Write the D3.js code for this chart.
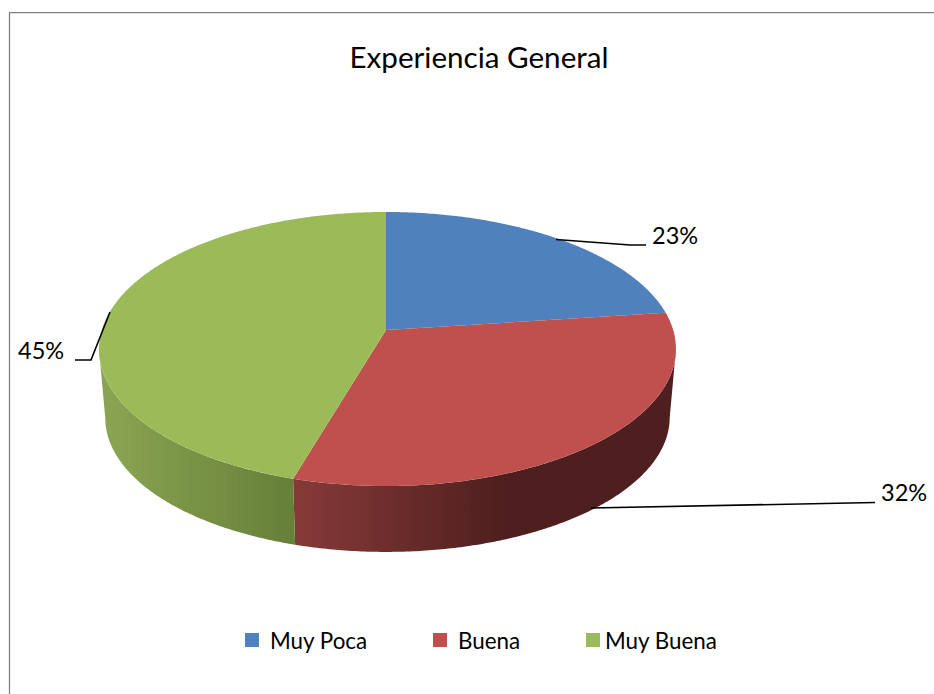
<!DOCTYPE html>
<html>
<head>
<meta charset="utf-8">
<script src="https://cdn.jsdelivr.net/npm/d3@7"></script>
<style>
html, body { margin: 0; padding: 0; background: #fff; }
svg { display: block; font-family: Lato, "Open Sans", sans-serif; }
</style>
</head>
<body>
<svg id="chart" width="934" height="694"></svg>
<script>
var categories = ["Muy Poca", "Buena", "Muy Buena"];
var values = [22.9, 31.6, 45.4];
var colors = ["#4f81bd", "#c0504d", "#9bbb59"];
var title = "Experiencia General";

var svg = d3.select("#chart");

// chart frame, only top and left edges show in the crop
svg.append("path")
    .attr("d", "M9.5 694 V12.5 H934")
    .attr("fill", "none")
    .attr("stroke", "#808080")
    .attr("stroke-width", 1.25);

svg.append("text")
    .attr("x", 479)
    .attr("y", 68)
    .attr("text-anchor", "middle")
    .attr("font-size", 29.6)
    .attr("fill", "#000")
    .text(title);

// tilted disc: circle points go through a small perspective so the apex sits above the ellipse centre
var tilt = 0.1387;
function project(angle, level) {
    var X = Math.sin(angle), Y = -Math.cos(angle);
    var w = 1 - tilt * Y;
    if (level == 0) {
        return [386 + 285.7 * X / w + 1.5 * X * X, 330 + 134.4 * Y / w];
    }
    return [386 + 279.5 * X / w + 1.5 * X * X, 399 + 131.7 * Y / w];
}

var pie = d3.pie().value(d => d).sort(null);
var arcs = pie(values);
var line = d3.line();

function rimAngles(a0, a1) {
    var n = Math.ceil((a1 - a0) / 0.01);
    return d3.range(n + 1).map(i => a0 + (a1 - a0) * i / n);
}

var defs = svg.append("defs");
function wallGradient(id, x1, x2, stops) {
    var g = defs.append("linearGradient")
        .attr("id", id)
        .attr("gradientUnits", "userSpaceOnUse")
        .attr("x1", x1).attr("x2", x2)
        .attr("y1", 0).attr("y2", 0);
    stops.forEach(s => g.append("stop").attr("offset", s[0]).attr("stop-color", s[1]));
}
wallGradient("wall1", 296, 676, [[0, "#863a38"], [0.55, "#4e1f1e"], [1, "#4e1f1e"]]);
wallGradient("wall2", 103, 296, [[0, "#8aa552"], [1, "#667f39"]]);

// walls first, clamped to the silhouette angles so the side edges are the straight tangents
var edgeRight = Math.acos(-tilt);
var edgeLeft = 2 * Math.PI - edgeRight;
[1, 2].forEach(i => {
    var d = arcs[i];
    var angles = rimAngles(Math.max(d.startAngle, edgeRight), Math.min(d.endAngle, edgeLeft));
    var top = angles.map(a => project(a, 0));
    var bottom = angles.map(a => project(a, 1)).reverse();
    svg.append("path")
        .attr("d", line(top.concat(bottom)) + "Z")
        .attr("fill", "url(#wall" + i + ")");
});

arcs.forEach((d, i) => {
    var pts = rimAngles(d.startAngle, d.endAngle).map(a => project(a, 0));
    pts.unshift([386, 330]);
    svg.append("path")
        .attr("d", line(pts) + "Z")
        .attr("fill", colors[i]);
});

// data labels with leader lines
var labelFormat = d => Math.round(d) + "%";
var labelBoxes = [
    {x: 652, y: 244, leader: [[556, 239.5], [630, 245], [646, 245]]},
    {x: 881, y: 501, leader: [[591, 508], [875, 502.5]]},
    {x: 18, y: 359, leader: [[110, 312], [91, 360], [75, 360]]}
];
labelBoxes.forEach((b, i) => {
    svg.append("path")
        .attr("d", line(b.leader))
        .attr("fill", "none")
        .attr("stroke", "#000")
        .attr("stroke-width", 1.6);
    svg.append("text")
        .attr("x", b.x)
        .attr("y", b.y)
        .attr("font-size", 23.5)
        .attr("fill", "#000")
        .text(labelFormat(values[i]));
});

// legend
var legendX = [245, 433, 586];
categories.forEach((c, i) => {
    svg.append("rect")
        .attr("x", legendX[i])
        .attr("y", 633)
        .attr("width", 14)
        .attr("height", 14)
        .attr("fill", colors[i]);
    svg.append("text")
        .attr("x", legendX[i] + (i == 2 ? 19 : 25))
        .attr("y", 649)
        .attr("font-size", 22.4)
        .attr("fill", "#000")
        .text(c);
});
</script>
</body>
</html>
